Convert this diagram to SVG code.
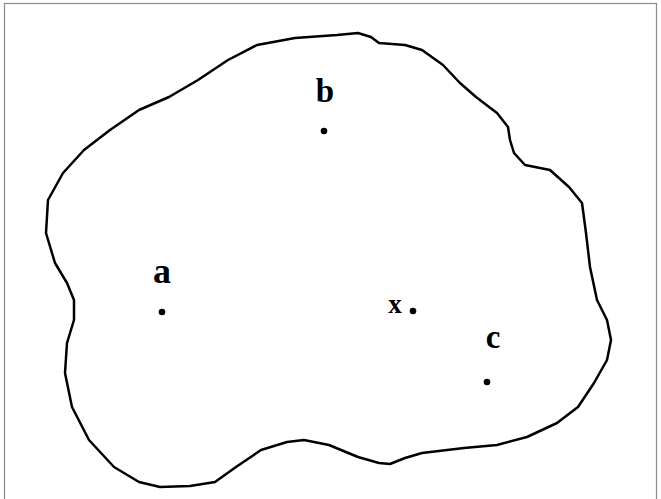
<svg xmlns="http://www.w3.org/2000/svg" width="661" height="499" viewBox="0 0 661 499">
<style>
.lbl{font-family:"Liberation Serif","Times New Roman",serif;font-weight:bold;fill:#000;text-anchor:middle}
.dot{fill:#000}
</style>
<rect x="0" y="0" width="661" height="499" fill="#fff"/>
<rect x="4.5" y="3.5" width="652" height="500" fill="none" stroke="#8a8a8a" stroke-width="1.2"/>
<g id="region">
<path d="M358,33 L371,37 L379,43 L405,45 L422,50 L443,65 L460,83 L476,97 L497,113 L508,127 L510,140 L514,153 L525,165 L535,167 L550,170 L569,187 L582,203 L586,233 L590,267 L597,300 L607,320 L611,340 L607,360 L594,383 L578,407 L557,423 L527,437 L497,445 L464,448 L422,453 L405,458 L390,464 L379,463 L358,457 L329,445 L304,440 L287,442 L261,450 L236,467 L215,482 L190,486 L160,487 L139,482 L114,467 L89,440 L72,407 L65,373 L67,343 L74,320 L74,300 L67,283 L55,263 L46,233 L48,200 L63,173 L84,150 L110,130 L139,110 L169,97 L198,80 L228,60 L257,45 L295,38 L337,35 Z" fill="none" stroke="#000" stroke-width="2.5" stroke-linejoin="round"/>
</g>
<g id="node-a"><text class="lbl" x="162" y="283" font-size="36">a</text><circle class="dot" cx="162" cy="312" r="3.3"/></g>
<g id="node-b"><text class="lbl" x="325" y="102" font-size="33">b</text><circle class="dot" cx="324" cy="131" r="3.3"/></g>
<g id="node-c"><text class="lbl" x="493" y="348" font-size="33">c</text><circle class="dot" cx="487" cy="382" r="3.3"/></g>
<g id="node-x"><text class="lbl" x="395" y="313" font-size="27">x</text><circle class="dot" cx="413" cy="311" r="3.3"/></g>
</svg>
